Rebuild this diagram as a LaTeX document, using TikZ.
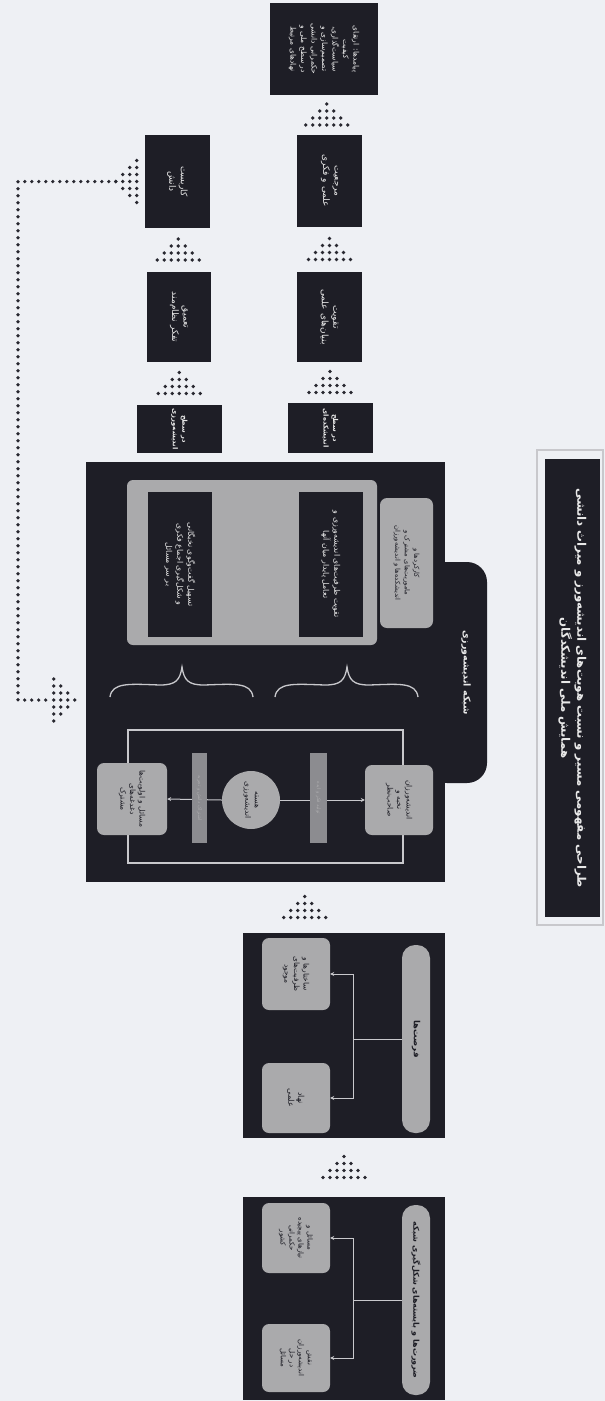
\documentclass[tikz,border=0pt]{standalone}
\usepackage{fontspec}
\newfontfamily\arabicfont[Script=Arabic]{DejaVu Sans}
\TeXXeTstate=1
\newcommand\fa[1]{\beginR #1\endR}
\usetikzlibrary{arrows.meta,calc}
\definecolor{bgc}{RGB}{238,240,244}
\definecolor{darkc}{RGB}{30,30,38}
\definecolor{grayc}{RGB}{170,170,172}
\definecolor{barc}{RGB}{140,140,144}
\definecolor{linec}{RGB}{200,200,204}
\definecolor{dotc}{RGB}{40,40,48}
\definecolor{txtl}{RGB}{232,232,232}
\begin{document}
\begin{tikzpicture}[x=1pt,y=-1pt,
  darkbox/.style={fill=darkc,draw=none,inner sep=0pt},
  graybox/.style={fill=grayc,draw=none,rounded corners=7pt,inner sep=0pt},
  pillbox/.style={fill=grayc,draw=none,rounded corners=13pt,inner sep=0pt},
  barbox/.style={fill=barc,draw=none,inner sep=0pt},
  ltext/.style={rotate=-90,text=txtl,align=center,inner sep=0pt,font=\arabicfont\fontsize{9}{11.5}\selectfont},
  dtext/.style={rotate=-90,text=darkc,align=center,inner sep=0pt,font=\arabicfont\fontsize{7.5}{9.5}\selectfont},
  conn/.style={draw=linec,line width=1pt},
  connarr/.style={conn,-{Stealth[length=4pt,width=4pt]}},
  dotline/.style={draw=dotc,line width=3.6pt,line cap=round,dash pattern=on 0pt off 7pt},
  pics/uparr/.style={code={
    \foreach \k in {0,1,2,3}{\pgfmathtruncatemacro\n{2*\k}
      \foreach \j in {0,...,\n}{\fill[dotc] (\j*7-\k*7,\k*7) circle (1.9);}}}},
  pics/leftarr/.style={code={
    \foreach \k in {0,1,2,3}{\pgfmathtruncatemacro\n{2*\k}
      \foreach \j in {0,...,\n}{\fill[dotc] (\k*7,\j*7-\k*7) circle (1.9);}}}},
  pics/rightarr/.style={code={
    \foreach \k in {0,1,2,3}{\pgfmathtruncatemacro\n{2*\k}
      \foreach \j in {0,...,\n}{\fill[dotc] (-\k*7,\j*7-\k*7) circle (1.9);}}}}
]
\fill[bgc] (0,0) rectangle (605,1401);
\useasboundingbox (0,0) rectangle (605,1401);

% ---------- title ----------
\draw[linec,line width=2.5pt] (537,450) rectangle (603,925);
\node[darkbox,minimum width=55,minimum height=458] (title) at (572.5,688) {};
\node[ltext,font=\arabicfont\bfseries\fontsize{11.8}{16}\selectfont] at (title)
  {\fa{طراحی مفهومی مسیر و نسبت هویت‌های اندیشه‌ورز و میراث دانشی}\\\fa{همایش ملی اندیشکدگان}};

% ---------- upper chain ----------
\node[darkbox,minimum width=108,minimum height=92] (r4) at (324,49) {};
\node[ltext,font=\arabicfont\fontsize{7.5}{10.5}\selectfont] at (r4)
  {\fa{پیامدها: ارتقای}\\\fa{کیفیت}\\\fa{سیاست‌گذاری،}\\\fa{تصمیم‌سازی و}\\\fa{حکمرانی دانشی}\\\fa{در سطح ملی و}\\\fa{نهادهای مرتبط}};
\node[darkbox,minimum width=65,minimum height=92] (r3) at (329.5,181) {};
\node[ltext] at (r3) {\fa{مرجعیت}\\\fa{علمی و فکری}};
\node[darkbox,minimum width=65,minimum height=90] (r2) at (329.5,317) {};
\node[ltext] at (r2) {\fa{تقویت}\\\fa{بنیان‌های علمی}};
\node[darkbox,minimum width=85,minimum height=50] (r1) at (330.5,428) {};
\node[ltext,font=\arabicfont\bfseries\fontsize{6.8}{9.5}\selectfont] at (r1) {\fa{در سطح}\\\fa{اندیشکده‌ای}};

\node[darkbox,minimum width=65,minimum height=93] (l3) at (177.5,181.5) {};
\node[ltext] at (l3) {\fa{کاربست}\\\fa{دانش}};
\node[darkbox,minimum width=64,minimum height=90] (l2) at (179,317) {};
\node[ltext] at (l2) {\fa{تعمیق}\\\fa{تفکر نظام‌مند}};
\node[darkbox,minimum width=85,minimum height=48] (l1) at (179.5,429) {};
\node[ltext,font=\arabicfont\bfseries\fontsize{6.8}{9.5}\selectfont] at (l1) {\fa{در سطح}\\\fa{اندیشه‌ورزی}};

\pic at ($(r1.north)!.5!(r2.south)+(0,-11)$) {uparr};
\pic at ($(r2.north)!.5!(r3.south)+(0,-11)$) {uparr};
\pic at ($(r3.north)!.5!(r4.south)+(0,-11)$) {uparr};
\pic at ($(l1.north)!.5!(l2.south)+(0,-11)$) {uparr};
\pic at ($(l2.north)!.5!(l3.south)+(0,-11)$) {uparr};

% ---------- big box ----------
\node[fill=darkc,rounded corners=20pt,minimum width=60,minimum height=221,inner sep=0pt] (tab) at (457,672.5) {};
\node[darkbox,minimum width=359,minimum height=420] (big) at (265.5,672) {};
\node[ltext,font=\arabicfont\bfseries\fontsize{9.5}{11}\selectfont] at ($(tab.center)+(9,0)$) {\fa{شبکه اندیشه‌ورزی}};

\node[fill=grayc,rounded corners=6pt,minimum width=250,minimum height=165,inner sep=0pt] (grect) at (252,562.5) {};
\node[darkbox,minimum width=64,minimum height=145] (d1) at (180,564.5) {};
\node[ltext,font=\arabicfont\fontsize{7.8}{11}\selectfont] at (d1)
  {\fa{تسهیل گفت‌وگوی نخبگانی}\\\fa{و شکل‌گیری اجماع فکری}\\\fa{بر سر مسائل}};
\node[darkbox,minimum width=64,minimum height=145] (d2) at (331,564.5) {};
\node[ltext,font=\arabicfont\fontsize{7.8}{11}\selectfont] at (d2)
  {\fa{تقویت ظرفیت‌های اندیشه‌ورزی و}\\\fa{تعامل پایدار میان آنها}};
\node[graybox,minimum width=53,minimum height=130] (sbox) at (406.5,563) {};
\node[dtext,font=\arabicfont\fontsize{6.8}{9.5}\selectfont] at (sbox)
  {\fa{کارکردها و}\\\fa{ماموریت‌های مشترک و}\\\fa{اندیشکده‌ها و اندیشه‌ورزان}};

% braces
\draw[linec,line width=1.3pt] (110,697) .. controls (112,682) and (130,684) .. (160,685) .. controls (176,685) and (180,680) .. (182,667) .. controls (184,680) and (188,685) .. (204,685) .. controls (234,684) and (251,682) .. (253,697);
\draw[linec,line width=1.3pt] (275,697) .. controls (277,682) and (295,684) .. (325,685) .. controls (341,685) and (345,680) .. (347,667) .. controls (349,680) and (353,685) .. (369,685) .. controls (399,684) and (416,682) .. (418,697);

% lower frame
\coordinate (fa) at (128,730);
\coordinate (fb) at (403,863);
\draw[conn,line width=1.2pt] (fa) rectangle (fb);
\node[graybox,minimum width=70,minimum height=72] (lb) at (132,799) {};
\node[dtext] at (lb) {\fa{مسائل و اولویت‌ها}\\\fa{دغدغه‌های}\\\fa{مشترک}};
\node[graybox,minimum width=68,minimum height=70] (rb) at (399,800) {};
\node[dtext] at (rb) {\fa{اندیشه‌ورزان}\\\fa{نخبه و}\\\fa{صاحب‌نظر}};
\node[circle,fill=grayc,minimum size=58,inner sep=0pt] (circ) at (251,800) {};
\node[dtext] at (circ) {\fa{هسته}\\\fa{اندیشه‌ورزی}};
\draw[connarr] (circ.west) -- (lb.east);
\draw[connarr] (circ.east) -- (rb.west);
\node[barbox,minimum width=15,minimum height=90] (bar1) at (199.5,798) {};
\node[dtext,font=\arabicfont\fontsize{5}{6}\selectfont,text=grayc] at (bar1) {\fa{اشتراک دانش و تجربه}};
\node[barbox,minimum width=17,minimum height=90] (bar2) at (318.5,798) {};
\node[dtext,font=\arabicfont\fontsize{5}{6}\selectfont,text=grayc] at (bar2) {\fa{تولید فکر و ایده}};

% ---------- middle box ----------
\node[darkbox,minimum width=202,minimum height=205] (mid) at (344,1035.5) {};
\node[pillbox,minimum width=28,minimum height=188] (mpill) at (416,1039) {};
\node[dtext,font=\arabicfont\bfseries\fontsize{8.5}{10}\selectfont] at (mpill) {\fa{فرصت‌ها}};
\node[graybox,minimum width=68,minimum height=72] (mt) at (296,974) {};
\node[dtext] at (mt) {\fa{ساختارها و}\\\fa{ظرفیت‌های}\\\fa{موجود}};
\node[graybox,minimum width=68,minimum height=70] (mb) at (296,1098) {};
\node[dtext,font=\arabicfont\fontsize{8}{10}\selectfont] at (mb) {\fa{نهاد}\\\fa{علمی}};
\draw[conn] (mpill.west) -- ++(-48,0) coordinate (mj);
\draw[conn] (mj |- mt.east) -- (mj |- mb.east);
\draw[connarr] (mj |- mt.east) -- (mt.east);
\draw[connarr] (mj |- mb.east) -- (mb.east);

% ---------- bottom box ----------
\node[darkbox,minimum width=202,minimum height=203] (bot) at (344,1298.5) {};
\node[pillbox,minimum width=28,minimum height=190] (bpill) at (416,1300) {};
\node[dtext,font=\arabicfont\bfseries\fontsize{8}{9}\selectfont] at (bpill) {\fa{ضرورت‌ها و بایسته‌های شکل‌گیری شبکه}};
\node[graybox,minimum width=68,minimum height=70] (bt) at (296,1238) {};
\node[dtext,font=\arabicfont\fontsize{7}{9}\selectfont] at (bt) {\fa{مسائل و}\\\fa{نیازهای پیچیده}\\\fa{حکمرانی}\\\fa{کشور}};
\node[graybox,minimum width=68,minimum height=68] (bb) at (296,1358) {};
\node[dtext,font=\arabicfont\fontsize{7}{9}\selectfont] at (bb) {\fa{نقش}\\\fa{اندیشه‌ورزان}\\\fa{در حل}\\\fa{مسائل}};
\draw[conn] (bpill.west) -- ++(-48,0) coordinate (bj);
\draw[conn] (bj |- bt.east) -- (bj |- bb.east);
\draw[connarr] (bj |- bt.east) -- (bt.east);
\draw[connarr] (bj |- bb.east) -- (bb.east);

\pic at ($(bot.north)!.5!(mid.south)+(0,-11)$) {uparr};
\pic at ($(mid.north)!.5!(big.south)+(0,-11)$) {uparr};

% ---------- dotted feedback ----------
\coordinate (la) at ($(l3.west)+(-29,0)$);
\coordinate (ba) at ($(big.west)+(-11,28)$);
\coordinate (c1) at (18,182);
\coordinate (c2) at (18,700);
\pic at (la) {leftarr};
\pic at (ba) {rightarr};
\draw[dotline] (la) -- (c1 |- la) -- (c2 |- ba) -- ($(ba)+(-24,0)$);
\end{tikzpicture}
\end{document}
